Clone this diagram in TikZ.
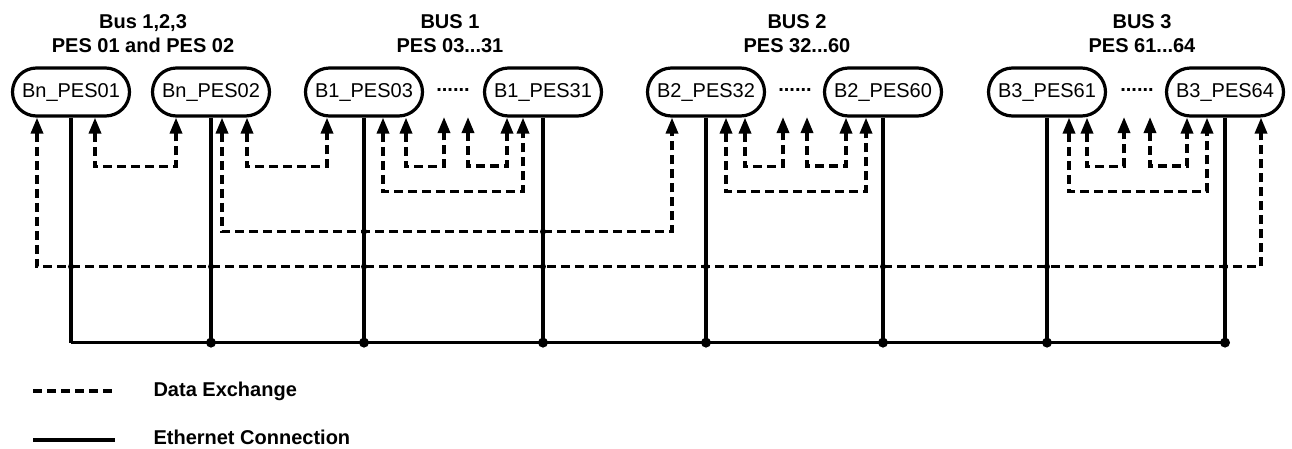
\documentclass[tikz,border=0pt]{standalone}
\usepackage{fontspec}
\setmainfont{Liberation Sans}
\usetikzlibrary{arrows.meta}
\begin{document}
\begin{tikzpicture}[x=1pt,y=-1pt,
  pes/.style={draw,line width=3.2pt,rounded corners=24pt,minimum width=117pt,minimum height=48pt,inner sep=0pt,font=\fontsize{20}{24}\selectfont},
  ttl/.style={align=center,font=\fontsize{20}{24}\selectfont\bfseries},
  dex/.style={line width=3.4pt,dash pattern=on 9pt off 5pt},
  dexa/.style={dex,{Triangle[length=16pt,width=12pt]}-{Triangle[length=16pt,width=12pt]}},
  eth/.style={line width=3.3pt},
  jdot/.style={circle,fill,inner sep=0pt,minimum size=10pt},
  xdot/.style={circle,fill,inner sep=0pt,minimum size=6pt},
  dotsnode/.style={font=\fontsize{20}{24}\selectfont\bfseries},
  leg/.style={anchor=west,font=\fontsize{20}{24}\selectfont\bfseries}]
\useasboundingbox (0,0) rectangle (1292,448);
% titles
\node[ttl] (t1) at (143,34) {Bus 1,2,3\\PES 01 and PES 02};
\node[ttl] (t2) at (450,34) {BUS 1\\PES 03...31};
\node[ttl] (t3) at (797,34) {BUS 2\\PES 32...60};
\node[ttl] (t4) at (1142,34) {BUS 3\\PES 61...64};
% nodes
\node[pes] (n1) at (71,92) {Bn\_PES01};
\node[pes] (n2) at (211,92) {Bn\_PES02};
\node[pes] (n3) at (364,92) {B1\_PES03};
\node[pes] (n4) at (543,92) {B1\_PES31};
\node[pes] (n5) at (706,92) {B2\_PES32};
\node[pes] (n6) at (883,92) {B2\_PES60};
\node[pes] (n7) at (1047,92) {B3\_PES61};
\node[pes] (n8) at (1225,92) {B3\_PES64};
\node[dotsnode] (d1) at (453,90) {......};
\node[dotsnode] (d2) at (795,90) {......};
\node[dotsnode] (d3) at (1137,90) {......};
% free arrow ends (toward the dots)
\coordinate (f1) at (444,117);
\coordinate (f2) at (468,117);
\coordinate (f3) at (783,117);
\coordinate (f4) at (807,117);
\coordinate (f5) at (1124,117);
\coordinate (f6) at (1150,117);
% data exchange
\draw[dexa] ([xshift=-34pt]n1.south) -- ++(0,149) coordinate (outL) -| ([xshift=36pt]n8.south);
\draw[dexa] ([xshift=11pt]n2.south) -- ++(0,114) coordinate (midL) -| ([xshift=-34pt]n5.south);
\draw[dexa] ([xshift=24pt]n1.south) -- ++(0,49) -| ([xshift=-35pt]n2.south);
\draw[dexa] ([xshift=36pt]n2.south) -- ++(0,49) -| ([xshift=-37pt]n3.south);
\draw[dexa] ([xshift=42pt]n3.south) -- ++(0,49) -| (f1);
\draw[dexa] (f2) -- ++(0,49) -| ([xshift=-36pt]n4.south);
\draw[dexa] ([xshift=19pt]n3.south) -- ++(0,74) -| ([xshift=-20pt]n4.south);
\draw[dexa] ([xshift=39pt]n5.south) -- ++(0,49) -| (f3);
\draw[dexa] (f4) -- ++(0,49) -| ([xshift=-37pt]n6.south);
\draw[dexa] ([xshift=20pt]n5.south) -- ++(0,74) -| ([xshift=-17pt]n6.south);
\draw[dexa] ([xshift=40pt]n7.south) -- ++(0,49) -| (f5);
\draw[dexa] (f6) -- ++(0,49) -| ([xshift=-38pt]n8.south);
\draw[dexa] ([xshift=22pt]n7.south) -- ++(0,74) -| ([xshift=-18pt]n8.south);
% ethernet
\path (n1.south) ++(0,225) coordinate (busL);
\foreach \n in {n1,n2,n3,n4,n5,n6,n7,n8}
  \draw[eth] (\n.south) -- (\n.south |- busL);
\draw[eth] (busL) -- (n8.south |- busL);
\foreach \n in {n2,n3,n4,n5,n6,n7,n8}
  \node[jdot] at (\n.south |- busL) {};
\foreach \n in {n1,n2,n3,n4,n5,n6,n7,n8}
  \node[xdot] at (\n.south |- outL) {};
\foreach \n in {n3,n4}
  \node[xdot] at (\n.south |- midL) {};
% legend
\coordinate (l1a) at (33,391);
\coordinate (l1b) at (115,391);
\coordinate (l2a) at (33,440);
\coordinate (l2b) at (115,440);
\draw[dex] (l1a) -- (l1b);
\draw[eth] (l2a) -- (l2b);
\node[leg] (lt1) at (150,391) {Data Exchange};
\node[leg] (lt2) at (150,437) {Ethernet Connection};
\end{tikzpicture}
\end{document}
